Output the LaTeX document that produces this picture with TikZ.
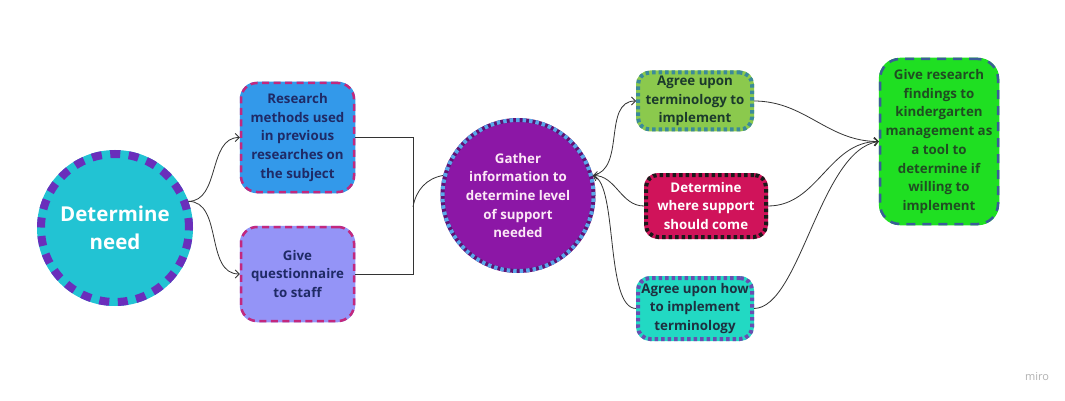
\documentclass[tikz,border=0pt]{standalone}
\usepackage{fontspec}
\setmainfont{Open Sans}
\usetikzlibrary{arrows.meta}
\definecolor{needfill}{HTML}{22C3D3}
\definecolor{needdash}{HTML}{6A2EBB}
\definecolor{resfill}{HTML}{3399EA}
\definecolor{resdash}{HTML}{C2287E}
\definecolor{navy}{HTML}{1F2A66}
\definecolor{questfill}{HTML}{9494F7}
\definecolor{gathfill}{HTML}{8C17A6}
\definecolor{gathdot}{HTML}{5AA7EA}
\definecolor{gathtext}{HTML}{FCE8F6}
\definecolor{termfill}{HTML}{8BC94D}
\definecolor{termdot}{HTML}{3B8A99}
\definecolor{termtext}{HTML}{1B3A2C}
\definecolor{wherefill}{HTML}{D0135A}
\definecolor{wheredot}{HTML}{1A1A1A}
\definecolor{howfill}{HTML}{22D9C3}
\definecolor{howdot}{HTML}{6A4DB1}
\definecolor{howtext}{HTML}{1E3040}
\definecolor{findfill}{HTML}{1FDF22}
\definecolor{finddash}{HTML}{3A5C98}
\definecolor{findtext}{HTML}{1F4D22}
\definecolor{conncol}{HTML}{333333}
\tikzset{
  base/.style={align=center, inner sep=0pt, font=\bfseries\fontsize{13.3}{18.7}\selectfont},
  box/.style={base, rectangle, rounded corners=16pt},
  dashedborder/.style 2 args={draw=#1, postaction={draw=#2, dash pattern=on 7pt off 4.5pt}},
  dottedborder/.style 2 args={draw=#1, postaction={draw=#2, dash pattern=on 3.5pt off 3pt}},
  conn/.style={draw=conncol, line width=0.8pt},
  arr/.style={conn, -{Straight Barb[length=4pt,width=8pt]}},
}
\begin{document}
\begin{tikzpicture}[x=1pt,y=-1pt]
\useasboundingbox[fill=white] (0,0) rectangle (1065,401);

\node[base, circle, minimum size=148pt, fill=needfill, line width=8pt,
  draw=needfill, postaction={draw=needdash, dash pattern=on 10pt off 8.5pt},
  text=white, font=\bfseries\fontsize{20.5}{28}\selectfont] (need) at (115,228) {Determine\\need};

\node[box, minimum width=113pt, minimum height=109pt, fill=resfill, line width=2.5pt,
  dashedborder={resfill}{resdash}, text=navy] (research) at (297.5,137.5)
  {Research\\methods used\\in previous\\researches on\\the subject};

\node[box, minimum width=113pt, minimum height=94pt, fill=questfill, line width=2.5pt,
  dashedborder={questfill}{resdash}, text=navy] (quest) at (297.5,274)
  {Give\\questionnaire\\to staff};

\node[base, circle, minimum size=151pt, fill=gathfill, line width=4pt,
  dottedborder={gathfill!70!black}{gathdot}, text=gathtext] (gather) at (518,195.5)
  {Gather\\information to\\determine level\\of support\\needed};

\node[box, rounded corners=12pt, minimum width=114pt, minimum height=57pt, fill=termfill, line width=4pt,
  dottedborder={termfill}{termdot}, text=termtext] (term) at (695,101)
  {Agree upon\\terminology to\\implement};

\node[box, rounded corners=12pt, minimum width=120pt, minimum height=62pt, fill=wherefill, line width=4pt,
  dottedborder={wherefill}{wheredot}, text=white] (where) at (706,206)
  {Determine\\where support\\should come};

\node[box, rounded corners=12pt, minimum width=114pt, minimum height=61pt, fill=howfill, line width=4pt,
  dottedborder={howfill}{howdot}, text=howtext] (how) at (695,308.5)
  {Agree upon how\\to implement\\terminology};

\node[box, rounded corners=20pt, minimum width=118pt, minimum height=165pt, fill=findfill, line width=2.5pt,
  draw=findfill, postaction={draw=finddash, dash pattern=on 9pt off 7pt}, text=findtext] (find) at (939,141.5)
  {Give research\\findings to\\kindergarten\\management as\\a tool to\\determine if\\willing to\\implement};

\node[text=black!30, font=\fontsize{11}{13}\selectfont] (miro) at (1037,377) {miro};

% connectors
\draw[arr] (need.20) to[out=0,in=180] (research.west);
\draw[arr] (need.20) to[out=0,in=180] (quest.west);
\coordinate (j) at (413,207);
\draw[conn] (research.east) -- (j |- research.east) -- (j |- quest.east) -- (quest.east);
\draw[conn] (j) to[out=80,in=190] (gather.165);
\draw[arr] (gather.15) to[out=10,in=180] (term.west);
\draw[arr] (where.west) to[out=180,in=0] (gather.15);
\draw[arr] (how.west) .. controls (605,308) and (618,185) .. (gather.15);
\draw[arr] (term.east) to[out=0,in=180] (find.west);
\draw[arr] (where.east) to[out=0,in=180] (find.west);
\draw[arr] (how.east) .. controls (800,308) and (820,150) .. (find.west);
\end{tikzpicture}
\end{document}
